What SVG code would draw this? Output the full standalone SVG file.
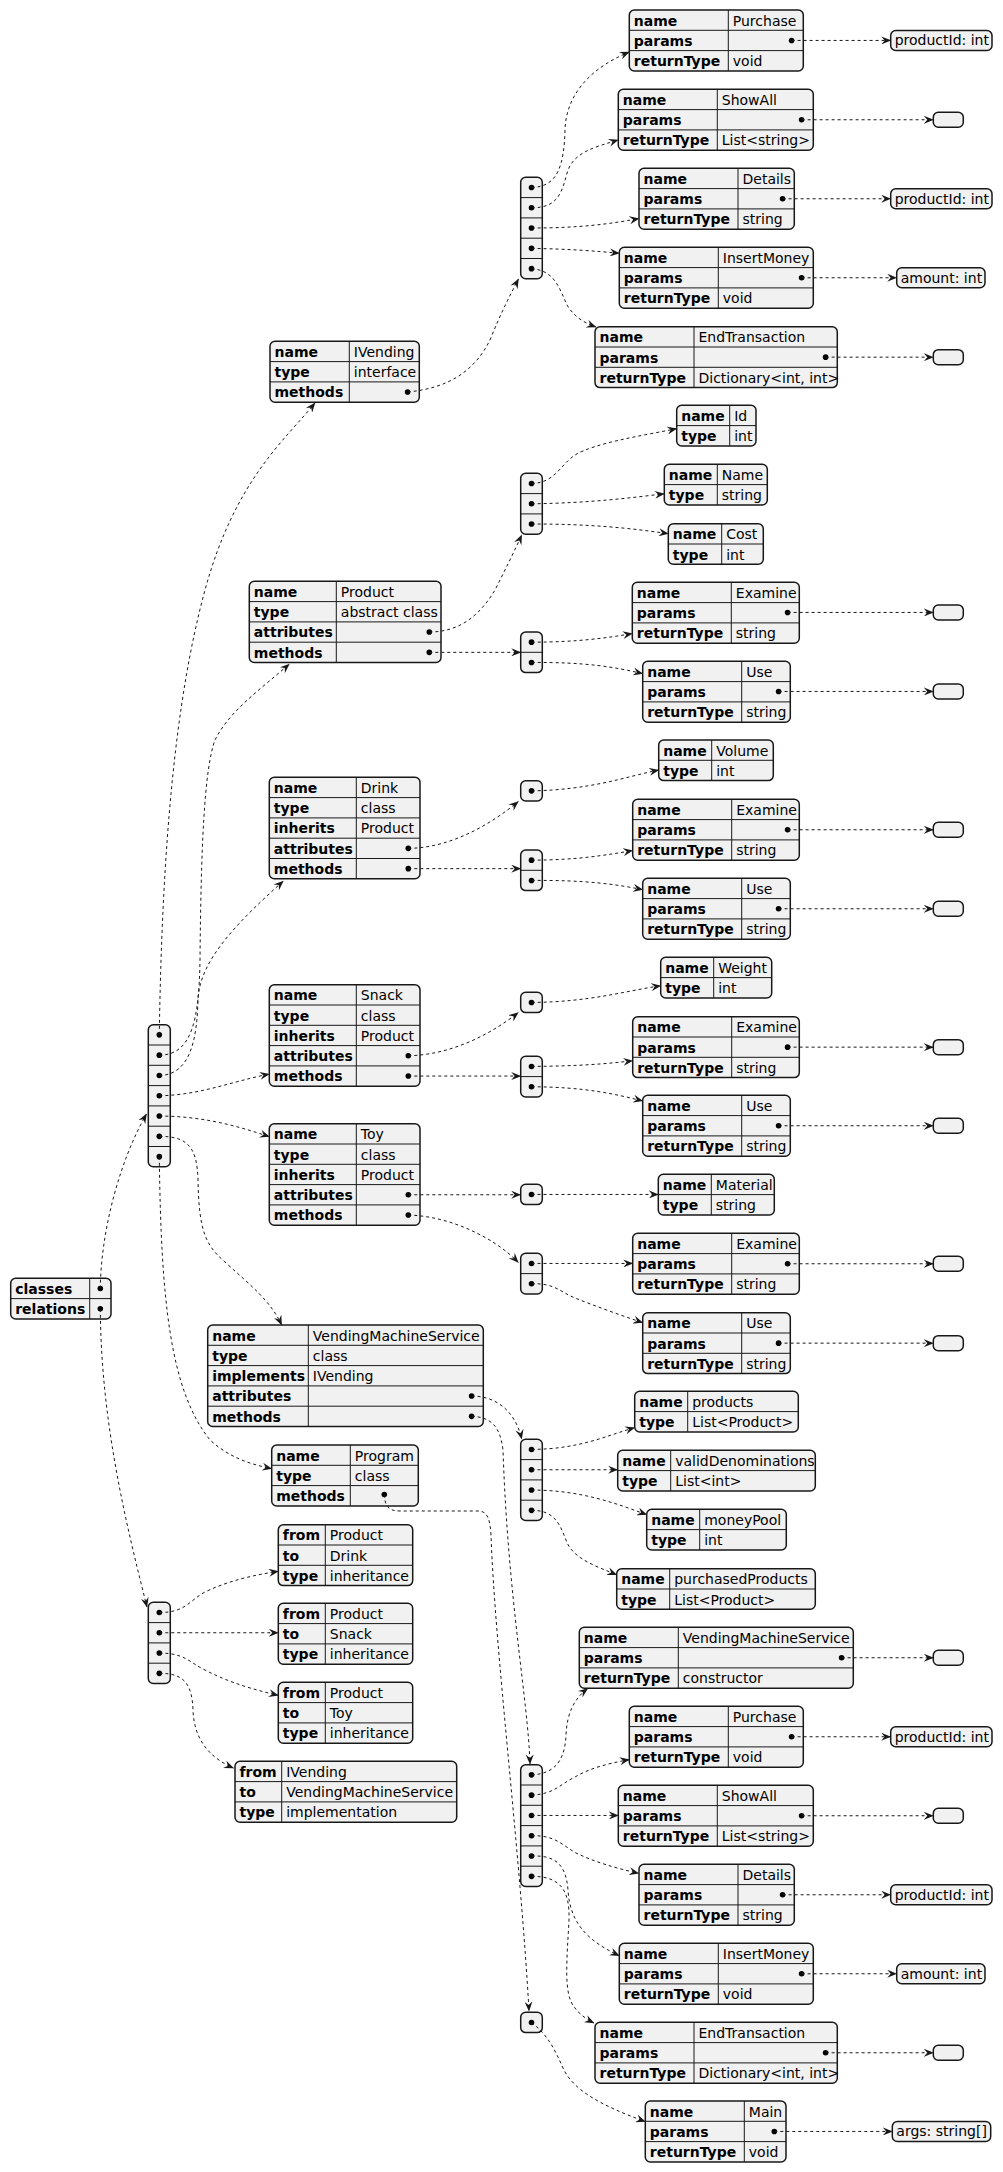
<svg xmlns="http://www.w3.org/2000/svg" width="1003" height="2172" viewBox="0 0 1003 2172">
<style>
.b{fill:#F1F1F1;stroke:#181818;stroke-width:1.5}
.g{fill:none;stroke:#181818;stroke-width:1}
text{font-family:"DejaVu Sans","Liberation Sans",sans-serif;font-size:14px;fill:#000}
.k{font-weight:bold}
.d{fill:#000}
.c path{fill:none;stroke:#181818;stroke-width:1;stroke-dasharray:3,3;marker-end:url(#ah)}
</style>
<defs>
<marker id="ah" viewBox="0 0 10 8" refX="9.5" refY="4" markerWidth="10" markerHeight="8" orient="auto" markerUnits="userSpaceOnUse"><path d="M0,0 L10,4 L0,8 L3.5,4 Z" fill="#181818"/></marker>
</defs>
<rect width="1003" height="2172" fill="#FFFFFF"/>

<g id="root"><rect class="b" x="10.7" y="1278.3" width="100.3" height="40.6" rx="5"/><path class="g" d="M10.7,1298.6H111M89.7,1278.3V1318.9"/><text class="k" x="15.2" y="1293.8">classes</text><text class="k" x="15.2" y="1314.1">relations</text><circle class="d" cx="100.3" cy="1288.45" r="2.8"/><circle class="d" cx="100.3" cy="1308.75" r="2.8"/></g>

<g id="classes"><rect class="b" x="148.3" y="1024.7" width="22" height="142.1" rx="5"/><path class="g" d="M148.3,1045H170.3M148.3,1065.3H170.3M148.3,1085.6H170.3M148.3,1105.9H170.3M148.3,1126.2H170.3M148.3,1146.5H170.3"/><circle class="d" cx="159.3" cy="1034.85" r="2.8"/><circle class="d" cx="159.3" cy="1055.15" r="2.8"/><circle class="d" cx="159.3" cy="1075.45" r="2.8"/><circle class="d" cx="159.3" cy="1095.75" r="2.8"/><circle class="d" cx="159.3" cy="1116.05" r="2.8"/><circle class="d" cx="159.3" cy="1136.35" r="2.8"/><circle class="d" cx="159.3" cy="1156.65" r="2.8"/></g>

<g id="relations"><rect class="b" x="148.3" y="1602.3" width="22" height="81.2" rx="5"/><path class="g" d="M148.3,1622.6H170.3M148.3,1642.9H170.3M148.3,1663.2H170.3"/><circle class="d" cx="159.3" cy="1612.45" r="2.8"/><circle class="d" cx="159.3" cy="1632.75" r="2.8"/><circle class="d" cx="159.3" cy="1653.05" r="2.8"/><circle class="d" cx="159.3" cy="1673.35" r="2.8"/></g>

<g id="ivending"><rect class="b" x="270" y="341.3" width="149.3" height="60.9" rx="5"/><path class="g" d="M270,361.6H419.3M270,381.9H419.3M349.3,341.3V402.2"/><text class="k" x="274.5" y="356.8">name</text><text class="k" x="274.5" y="377.1">type</text><text class="k" x="274.5" y="397.4">methods</text><text x="353.8" y="356.8">IVending</text><text x="353.8" y="377.1">interface</text><circle class="d" cx="407.6" cy="392.05" r="2.8"/></g>

<g id="ivending_methods"><rect class="b" x="520.7" y="177.3" width="21.6" height="101.5" rx="5"/><path class="g" d="M520.7,197.6H542.3M520.7,217.9H542.3M520.7,238.2H542.3M520.7,258.5H542.3"/><circle class="d" cx="531.5" cy="187.45" r="2.8"/><circle class="d" cx="531.5" cy="207.75" r="2.8"/><circle class="d" cx="531.5" cy="228.05" r="2.8"/><circle class="d" cx="531.5" cy="248.35" r="2.8"/><circle class="d" cx="531.5" cy="268.65" r="2.8"/></g>

<g id="iv_purchase"><rect class="b" x="629.3" y="10" width="174" height="60.9" rx="5"/><path class="g" d="M629.3,30.3H803.3M629.3,50.6H803.3M728.3,10V70.9"/><text class="k" x="633.8" y="25.5">name</text><text class="k" x="633.8" y="45.8">params</text><text class="k" x="633.8" y="66.1">returnType</text><text x="732.8" y="25.5">Purchase</text><text x="732.8" y="66.1">void</text><circle class="d" cx="791.6" cy="40.45" r="2.8"/></g>
<g id="iv_purchase_params"><rect class="b" x="890.7" y="30.45" width="101.3" height="20" rx="5"/><text x="894.7" y="45.2">productId: int</text></g>

<g id="iv_showall"><rect class="b" x="618.3" y="89.3" width="195" height="60.9" rx="5"/><path class="g" d="M618.3,109.6H813.3M618.3,129.9H813.3M717.3,89.3V150.2"/><text class="k" x="622.8" y="104.8">name</text><text class="k" x="622.8" y="125.1">params</text><text class="k" x="622.8" y="145.4">returnType</text><text x="721.8" y="104.8">ShowAll</text><text x="721.8" y="145.4">List&lt;string&gt;</text><circle class="d" cx="801.6" cy="119.75" r="2.8"/></g>
<g id="iv_showall_params"><rect class="b" x="933.3" y="112.25" width="30" height="15" rx="5"/></g>

<g id="iv_details"><rect class="b" x="639" y="168.3" width="155.3" height="60.9" rx="5"/><path class="g" d="M639,188.6H794.3M639,208.9H794.3M738,168.3V229.2"/><text class="k" x="643.5" y="183.8">name</text><text class="k" x="643.5" y="204.1">params</text><text class="k" x="643.5" y="224.4">returnType</text><text x="742.5" y="183.8">Details</text><text x="742.5" y="224.4">string</text><circle class="d" cx="782.6" cy="198.75" r="2.8"/></g>
<g id="iv_details_params"><rect class="b" x="890.7" y="188.75" width="101.3" height="20" rx="5"/><text x="894.7" y="203.5">productId: int</text></g>

<g id="iv_insertmoney"><rect class="b" x="619.3" y="247.3" width="194" height="60.9" rx="5"/><path class="g" d="M619.3,267.6H813.3M619.3,287.9H813.3M718.3,247.3V308.2"/><text class="k" x="623.8" y="262.8">name</text><text class="k" x="623.8" y="283.1">params</text><text class="k" x="623.8" y="303.4">returnType</text><text x="722.8" y="262.8">InsertMoney</text><text x="722.8" y="303.4">void</text><circle class="d" cx="801.6" cy="277.75" r="2.8"/></g>
<g id="iv_insertmoney_params"><rect class="b" x="896.7" y="267.75" width="88.3" height="20" rx="5"/><text x="900.7" y="282.5">amount: int</text></g>

<g id="iv_endtransaction"><rect class="b" x="595" y="326.7" width="242.3" height="60.9" rx="5"/><path class="g" d="M595,347H837.3M595,367.3H837.3M694,326.7V387.6"/><text class="k" x="599.5" y="342.2">name</text><text class="k" x="599.5" y="362.5">params</text><text class="k" x="599.5" y="382.8">returnType</text><text x="698.5" y="342.2">EndTransaction</text><text x="698.5" y="382.8">Dictionary&lt;int, int&gt;</text><circle class="d" cx="825.6" cy="357.15" r="2.8"/></g>
<g id="iv_endtransaction_params"><rect class="b" x="933.3" y="349.65" width="30" height="15" rx="5"/></g>

<g id="product"><rect class="b" x="249.3" y="581.3" width="191.7" height="81.2" rx="5"/><path class="g" d="M249.3,601.6H441M249.3,621.9H441M249.3,642.2H441M336.3,581.3V662.5"/><text class="k" x="253.8" y="596.8">name</text><text class="k" x="253.8" y="617.1">type</text><text class="k" x="253.8" y="637.4">attributes</text><text class="k" x="253.8" y="657.7">methods</text><text x="340.8" y="596.8">Product</text><text x="340.8" y="617.1">abstract class</text><circle class="d" cx="429.3" cy="632.05" r="2.8"/><circle class="d" cx="429.3" cy="652.35" r="2.8"/></g>

<g id="product_attributes"><rect class="b" x="520.7" y="473.3" width="21.6" height="60.9" rx="5"/><path class="g" d="M520.7,493.6H542.3M520.7,513.9H542.3"/><circle class="d" cx="531.5" cy="483.45" r="2.8"/><circle class="d" cx="531.5" cy="503.75" r="2.8"/><circle class="d" cx="531.5" cy="524.05" r="2.8"/></g>
<g id="attr_id"><rect class="b" x="676.7" y="405.3" width="79.3" height="40.6" rx="5"/><path class="g" d="M676.7,425.6H756M729.7,405.3V445.9"/><text class="k" x="681.2" y="420.8">name</text><text class="k" x="681.2" y="441.1">type</text><text x="734.2" y="420.8">Id</text><text x="734.2" y="441.1">int</text></g>
<g id="attr_name"><rect class="b" x="664.3" y="464.3" width="103" height="40.6" rx="5"/><path class="g" d="M664.3,484.6H767.3M717.3,464.3V504.9"/><text class="k" x="668.8" y="479.8">name</text><text class="k" x="668.8" y="500.1">type</text><text x="721.8" y="479.8">Name</text><text x="721.8" y="500.1">string</text></g>
<g id="attr_cost"><rect class="b" x="668.3" y="523.7" width="95" height="40.6" rx="5"/><path class="g" d="M668.3,544H763.3M721.7,523.7V564.3"/><text class="k" x="672.8" y="539.2">name</text><text class="k" x="672.8" y="559.5">type</text><text x="726.2" y="539.2">Cost</text><text x="726.2" y="559.5">int</text></g>

<g id="product_methods"><rect class="b" x="520.7" y="632" width="21.6" height="40.6" rx="5"/><path class="g" d="M520.7,652.3H542.3"/><circle class="d" cx="531.5" cy="642.15" r="2.8"/><circle class="d" cx="531.5" cy="662.45" r="2.8"/></g>
<g id="product_examine"><rect class="b" x="632.3" y="582.3" width="167" height="60.9" rx="5"/><path class="g" d="M632.3,602.6H799.3M632.3,622.9H799.3M731.3,582.3V643.2"/><text class="k" x="636.8" y="597.8">name</text><text class="k" x="636.8" y="618.1">params</text><text class="k" x="636.8" y="638.4">returnType</text><text x="735.8" y="597.8">Examine</text><text x="735.8" y="638.4">string</text><circle class="d" cx="787.6" cy="612.45" r="2.8"/></g>
<g id="product_examine_params"><rect class="b" x="933.3" y="604.95" width="30" height="15" rx="5"/></g>
<g id="product_use"><rect class="b" x="642.7" y="661.3" width="147.6" height="60.9" rx="5"/><path class="g" d="M642.7,681.6H790.3M642.7,701.9H790.3M741.7,661.3V722.2"/><text class="k" x="647.2" y="676.8">name</text><text class="k" x="647.2" y="697.1">params</text><text class="k" x="647.2" y="717.4">returnType</text><text x="746.2" y="676.8">Use</text><text x="746.2" y="717.4">string</text><circle class="d" cx="778.6" cy="691.45" r="2.8"/></g>
<g id="product_use_params"><rect class="b" x="933.3" y="683.95" width="30" height="15" rx="5"/></g>

<g id="drink"><rect class="b" x="269.3" y="777.3" width="150.7" height="101.5" rx="5"/><path class="g" d="M269.3,797.6H420M269.3,817.9H420M269.3,838.2H420M269.3,858.5H420M356.3,777.3V878.8"/><text class="k" x="273.8" y="792.8">name</text><text class="k" x="273.8" y="813.1">type</text><text class="k" x="273.8" y="833.4">inherits</text><text class="k" x="273.8" y="853.7">attributes</text><text class="k" x="273.8" y="874">methods</text><text x="360.8" y="792.8">Drink</text><text x="360.8" y="813.1">class</text><text x="360.8" y="833.4">Product</text><circle class="d" cx="408.3" cy="848.35" r="2.8"/><circle class="d" cx="408.3" cy="868.65" r="2.8"/></g>
<g id="drink_attributes"><rect class="b" x="520.7" y="780.7" width="21.6" height="20.3" rx="5"/><circle class="d" cx="531.5" cy="790.85" r="2.8"/></g>
<g id="attr_volume"><rect class="b" x="658.7" y="740" width="114.6" height="40.6" rx="5"/><path class="g" d="M658.7,760.3H773.3M711.7,740V780.6"/><text class="k" x="663.2" y="755.5">name</text><text class="k" x="663.2" y="775.8">type</text><text x="716.2" y="755.5">Volume</text><text x="716.2" y="775.8">int</text></g>
<g id="drink_methods"><rect class="b" x="520.7" y="850" width="21.6" height="40.6" rx="5"/><path class="g" d="M520.7,870.3H542.3"/><circle class="d" cx="531.5" cy="860.15" r="2.8"/><circle class="d" cx="531.5" cy="880.45" r="2.8"/></g>
<g id="drink_examine"><rect class="b" x="632.7" y="799.3" width="166.6" height="60.9" rx="5"/><path class="g" d="M632.7,819.6H799.3M632.7,839.9H799.3M731.7,799.3V860.2"/><text class="k" x="637.2" y="814.8">name</text><text class="k" x="637.2" y="835.1">params</text><text class="k" x="637.2" y="855.4">returnType</text><text x="736.2" y="814.8">Examine</text><text x="736.2" y="855.4">string</text><circle class="d" cx="787.6" cy="829.75" r="2.8"/></g>
<g id="drink_examine_params"><rect class="b" x="933.3" y="822.25" width="30" height="15" rx="5"/></g>
<g id="drink_use"><rect class="b" x="642.7" y="878.3" width="147.6" height="60.9" rx="5"/><path class="g" d="M642.7,898.6H790.3M642.7,918.9H790.3M741.7,878.3V939.2"/><text class="k" x="647.2" y="893.8">name</text><text class="k" x="647.2" y="914.1">params</text><text class="k" x="647.2" y="934.4">returnType</text><text x="746.2" y="893.8">Use</text><text x="746.2" y="934.4">string</text><circle class="d" cx="778.6" cy="908.75" r="2.8"/></g>
<g id="drink_use_params"><rect class="b" x="933.3" y="901.25" width="30" height="15" rx="5"/></g>

<g id="snack"><rect class="b" x="269.3" y="984.7" width="150.7" height="101.5" rx="5"/><path class="g" d="M269.3,1005H420M269.3,1025.3H420M269.3,1045.6H420M269.3,1065.9H420M356.3,984.7V1086.2"/><text class="k" x="273.8" y="1000.2">name</text><text class="k" x="273.8" y="1020.5">type</text><text class="k" x="273.8" y="1040.8">inherits</text><text class="k" x="273.8" y="1061.1">attributes</text><text class="k" x="273.8" y="1081.4">methods</text><text x="360.8" y="1000.2">Snack</text><text x="360.8" y="1020.5">class</text><text x="360.8" y="1040.8">Product</text><circle class="d" cx="408.3" cy="1055.75" r="2.8"/><circle class="d" cx="408.3" cy="1076.05" r="2.8"/></g>
<g id="snack_attributes"><rect class="b" x="520.7" y="992.3" width="21.6" height="20.3" rx="5"/><circle class="d" cx="531.5" cy="1002.45" r="2.8"/></g>
<g id="attr_weight"><rect class="b" x="660.7" y="957.3" width="111" height="40.6" rx="5"/><path class="g" d="M660.7,977.6H771.7M713.7,957.3V997.9"/><text class="k" x="665.2" y="972.8">name</text><text class="k" x="665.2" y="993.1">type</text><text x="718.2" y="972.8">Weight</text><text x="718.2" y="993.1">int</text></g>
<g id="snack_methods"><rect class="b" x="520.7" y="1056.3" width="21.6" height="40.6" rx="5"/><path class="g" d="M520.7,1076.6H542.3"/><circle class="d" cx="531.5" cy="1066.45" r="2.8"/><circle class="d" cx="531.5" cy="1086.75" r="2.8"/></g>
<g id="snack_examine"><rect class="b" x="632.7" y="1016.7" width="166.6" height="60.9" rx="5"/><path class="g" d="M632.7,1037H799.3M632.7,1057.3H799.3M731.7,1016.7V1077.6"/><text class="k" x="637.2" y="1032.2">name</text><text class="k" x="637.2" y="1052.5">params</text><text class="k" x="637.2" y="1072.8">returnType</text><text x="736.2" y="1032.2">Examine</text><text x="736.2" y="1072.8">string</text><circle class="d" cx="787.6" cy="1047.15" r="2.8"/></g>
<g id="snack_examine_params"><rect class="b" x="933.3" y="1039.65" width="30" height="15" rx="5"/></g>
<g id="snack_use"><rect class="b" x="642.7" y="1095.3" width="147.6" height="60.9" rx="5"/><path class="g" d="M642.7,1115.6H790.3M642.7,1135.9H790.3M741.7,1095.3V1156.2"/><text class="k" x="647.2" y="1110.8">name</text><text class="k" x="647.2" y="1131.1">params</text><text class="k" x="647.2" y="1151.4">returnType</text><text x="746.2" y="1110.8">Use</text><text x="746.2" y="1151.4">string</text><circle class="d" cx="778.6" cy="1125.75" r="2.8"/></g>
<g id="snack_use_params"><rect class="b" x="933.3" y="1118.25" width="30" height="15" rx="5"/></g>

<g id="toy"><rect class="b" x="269.3" y="1123.7" width="150.7" height="101.5" rx="5"/><path class="g" d="M269.3,1144H420M269.3,1164.3H420M269.3,1184.6H420M269.3,1204.9H420M356.3,1123.7V1225.2"/><text class="k" x="273.8" y="1139.2">name</text><text class="k" x="273.8" y="1159.5">type</text><text class="k" x="273.8" y="1179.8">inherits</text><text class="k" x="273.8" y="1200.1">attributes</text><text class="k" x="273.8" y="1220.4">methods</text><text x="360.8" y="1139.2">Toy</text><text x="360.8" y="1159.5">class</text><text x="360.8" y="1179.8">Product</text><circle class="d" cx="408.3" cy="1194.75" r="2.8"/><circle class="d" cx="408.3" cy="1215.05" r="2.8"/></g>
<g id="toy_attributes"><rect class="b" x="520.7" y="1184.3" width="21.6" height="20.3" rx="5"/><circle class="d" cx="531.5" cy="1194.45" r="2.8"/></g>
<g id="attr_material"><rect class="b" x="658.3" y="1174.3" width="116" height="40.6" rx="5"/><path class="g" d="M658.3,1194.6H774.3M711.3,1174.3V1214.9"/><text class="k" x="662.8" y="1189.8">name</text><text class="k" x="662.8" y="1210.1">type</text><text x="715.8" y="1189.8">Material</text><text x="715.8" y="1210.1">string</text></g>
<g id="toy_methods"><rect class="b" x="520.7" y="1253.3" width="21.6" height="40.6" rx="5"/><path class="g" d="M520.7,1273.6H542.3"/><circle class="d" cx="531.5" cy="1263.45" r="2.8"/><circle class="d" cx="531.5" cy="1283.75" r="2.8"/></g>
<g id="toy_examine"><rect class="b" x="632.7" y="1233.3" width="166.6" height="60.9" rx="5"/><path class="g" d="M632.7,1253.6H799.3M632.7,1273.9H799.3M731.7,1233.3V1294.2"/><text class="k" x="637.2" y="1248.8">name</text><text class="k" x="637.2" y="1269.1">params</text><text class="k" x="637.2" y="1289.4">returnType</text><text x="736.2" y="1248.8">Examine</text><text x="736.2" y="1289.4">string</text><circle class="d" cx="787.6" cy="1263.75" r="2.8"/></g>
<g id="toy_examine_params"><rect class="b" x="933.3" y="1256.25" width="30" height="15" rx="5"/></g>
<g id="toy_use"><rect class="b" x="642.7" y="1312.7" width="147.6" height="60.9" rx="5"/><path class="g" d="M642.7,1333H790.3M642.7,1353.3H790.3M741.7,1312.7V1373.6"/><text class="k" x="647.2" y="1328.2">name</text><text class="k" x="647.2" y="1348.5">params</text><text class="k" x="647.2" y="1368.8">returnType</text><text x="746.2" y="1328.2">Use</text><text x="746.2" y="1368.8">string</text><circle class="d" cx="778.6" cy="1343.15" r="2.8"/></g>
<g id="toy_use_params"><rect class="b" x="933.3" y="1335.65" width="30" height="15" rx="5"/></g>

<g id="vms"><rect class="b" x="207.7" y="1325" width="275.6" height="101.5" rx="5"/><path class="g" d="M207.7,1345.3H483.3M207.7,1365.6H483.3M207.7,1385.9H483.3M207.7,1406.2H483.3M308.3,1325V1426.5"/><text class="k" x="212.2" y="1340.5">name</text><text class="k" x="212.2" y="1360.8">type</text><text class="k" x="212.2" y="1381.1">implements</text><text class="k" x="212.2" y="1401.4">attributes</text><text class="k" x="212.2" y="1421.7">methods</text><text x="312.8" y="1340.5">VendingMachineService</text><text x="312.8" y="1360.8">class</text><text x="312.8" y="1381.1">IVending</text><circle class="d" cx="471.6" cy="1396.05" r="2.8"/><circle class="d" cx="471.6" cy="1416.35" r="2.8"/></g>
<g id="vms_attributes"><rect class="b" x="520.7" y="1439.3" width="21.6" height="81.2" rx="5"/><path class="g" d="M520.7,1459.6H542.3M520.7,1479.9H542.3M520.7,1500.2H542.3"/><circle class="d" cx="531.5" cy="1449.45" r="2.8"/><circle class="d" cx="531.5" cy="1469.75" r="2.8"/><circle class="d" cx="531.5" cy="1490.05" r="2.8"/><circle class="d" cx="531.5" cy="1510.35" r="2.8"/></g>
<g id="attr_products"><rect class="b" x="634.7" y="1391.3" width="163.6" height="40.6" rx="5"/><path class="g" d="M634.7,1411.6H798.3M687.7,1391.3V1431.9"/><text class="k" x="639.2" y="1406.8">name</text><text class="k" x="639.2" y="1427.1">type</text><text x="692.2" y="1406.8">products</text><text x="692.2" y="1427.1">List&lt;Product&gt;</text></g>
<g id="attr_validdenominations"><rect class="b" x="617.7" y="1450.3" width="197.6" height="40.6" rx="5"/><path class="g" d="M617.7,1470.6H815.3M670.7,1450.3V1490.9"/><text class="k" x="622.2" y="1465.8">name</text><text class="k" x="622.2" y="1486.1">type</text><text x="675.2" y="1465.8">validDenominations</text><text x="675.2" y="1486.1">List&lt;int&gt;</text></g>
<g id="attr_moneypool"><rect class="b" x="646.7" y="1509.3" width="139.6" height="40.6" rx="5"/><path class="g" d="M646.7,1529.6H786.3M699.7,1509.3V1549.9"/><text class="k" x="651.2" y="1524.8">name</text><text class="k" x="651.2" y="1545.1">type</text><text x="704.2" y="1524.8">moneyPool</text><text x="704.2" y="1545.1">int</text></g>
<g id="attr_purchasedproducts"><rect class="b" x="616.7" y="1568.7" width="198.6" height="40.6" rx="5"/><path class="g" d="M616.7,1589H815.3M669.7,1568.7V1609.3"/><text class="k" x="621.2" y="1584.2">name</text><text class="k" x="621.2" y="1604.5">type</text><text x="674.2" y="1584.2">purchasedProducts</text><text x="674.2" y="1604.5">List&lt;Product&gt;</text></g>

<g id="vms_methods"><rect class="b" x="520.7" y="1764.7" width="21.6" height="121.8" rx="5"/><path class="g" d="M520.7,1785H542.3M520.7,1805.3H542.3M520.7,1825.6H542.3M520.7,1845.9H542.3M520.7,1866.2H542.3"/><circle class="d" cx="531.5" cy="1774.85" r="2.8"/><circle class="d" cx="531.5" cy="1795.15" r="2.8"/><circle class="d" cx="531.5" cy="1815.45" r="2.8"/><circle class="d" cx="531.5" cy="1835.75" r="2.8"/><circle class="d" cx="531.5" cy="1856.05" r="2.8"/><circle class="d" cx="531.5" cy="1876.35" r="2.8"/></g>
<g id="vms_constructor"><rect class="b" x="579.3" y="1627.3" width="274" height="60.9" rx="5"/><path class="g" d="M579.3,1647.6H853.3M579.3,1667.9H853.3M678.3,1627.3V1688.2"/><text class="k" x="583.8" y="1642.8">name</text><text class="k" x="583.8" y="1663.1">params</text><text class="k" x="583.8" y="1683.4">returnType</text><text x="682.8" y="1642.8">VendingMachineService</text><text x="682.8" y="1683.4">constructor</text><circle class="d" cx="841.6" cy="1657.75" r="2.8"/></g>
<g id="vms_constructor_params"><rect class="b" x="933.3" y="1650.25" width="30" height="15" rx="5"/></g>
<g id="vms_purchase"><rect class="b" x="629.3" y="1706.3" width="174" height="60.9" rx="5"/><path class="g" d="M629.3,1726.6H803.3M629.3,1746.9H803.3M728.3,1706.3V1767.2"/><text class="k" x="633.8" y="1721.8">name</text><text class="k" x="633.8" y="1742.1">params</text><text class="k" x="633.8" y="1762.4">returnType</text><text x="732.8" y="1721.8">Purchase</text><text x="732.8" y="1762.4">void</text><circle class="d" cx="791.6" cy="1736.75" r="2.8"/></g>
<g id="vms_purchase_params"><rect class="b" x="890.7" y="1726.75" width="101.3" height="20" rx="5"/><text x="894.7" y="1741.5">productId: int</text></g>
<g id="vms_showall"><rect class="b" x="618.3" y="1785.3" width="195" height="60.9" rx="5"/><path class="g" d="M618.3,1805.6H813.3M618.3,1825.9H813.3M717.3,1785.3V1846.2"/><text class="k" x="622.8" y="1800.8">name</text><text class="k" x="622.8" y="1821.1">params</text><text class="k" x="622.8" y="1841.4">returnType</text><text x="721.8" y="1800.8">ShowAll</text><text x="721.8" y="1841.4">List&lt;string&gt;</text><circle class="d" cx="801.6" cy="1815.75" r="2.8"/></g>
<g id="vms_showall_params"><rect class="b" x="933.3" y="1808.25" width="30" height="15" rx="5"/></g>
<g id="vms_details"><rect class="b" x="639" y="1864.3" width="155.3" height="60.9" rx="5"/><path class="g" d="M639,1884.6H794.3M639,1904.9H794.3M738,1864.3V1925.2"/><text class="k" x="643.5" y="1879.8">name</text><text class="k" x="643.5" y="1900.1">params</text><text class="k" x="643.5" y="1920.4">returnType</text><text x="742.5" y="1879.8">Details</text><text x="742.5" y="1920.4">string</text><circle class="d" cx="782.6" cy="1894.75" r="2.8"/></g>
<g id="vms_details_params"><rect class="b" x="890.7" y="1884.75" width="101.3" height="20" rx="5"/><text x="894.7" y="1899.5">productId: int</text></g>
<g id="vms_insertmoney"><rect class="b" x="619.3" y="1943.3" width="194" height="60.9" rx="5"/><path class="g" d="M619.3,1963.6H813.3M619.3,1983.9H813.3M718.3,1943.3V2004.2"/><text class="k" x="623.8" y="1958.8">name</text><text class="k" x="623.8" y="1979.1">params</text><text class="k" x="623.8" y="1999.4">returnType</text><text x="722.8" y="1958.8">InsertMoney</text><text x="722.8" y="1999.4">void</text><circle class="d" cx="801.6" cy="1973.75" r="2.8"/></g>
<g id="vms_insertmoney_params"><rect class="b" x="896.7" y="1963.75" width="88.3" height="20" rx="5"/><text x="900.7" y="1978.5">amount: int</text></g>
<g id="vms_endtransaction"><rect class="b" x="595" y="2022.3" width="242.3" height="60.9" rx="5"/><path class="g" d="M595,2042.6H837.3M595,2062.9H837.3M694,2022.3V2083.2"/><text class="k" x="599.5" y="2037.8">name</text><text class="k" x="599.5" y="2058.1">params</text><text class="k" x="599.5" y="2078.4">returnType</text><text x="698.5" y="2037.8">EndTransaction</text><text x="698.5" y="2078.4">Dictionary&lt;int, int&gt;</text><circle class="d" cx="825.6" cy="2052.75" r="2.8"/></g>
<g id="vms_endtransaction_params"><rect class="b" x="933.3" y="2045.25" width="30" height="15" rx="5"/></g>

<g id="program"><rect class="b" x="271.7" y="1445" width="146.6" height="60.9" rx="5"/><path class="g" d="M271.7,1465.3H418.3M271.7,1485.6H418.3M350.3,1445V1505.9"/><text class="k" x="276.2" y="1460.5">name</text><text class="k" x="276.2" y="1480.8">type</text><text class="k" x="276.2" y="1501.1">methods</text><text x="354.8" y="1460.5">Program</text><text x="354.8" y="1480.8">class</text><circle class="d" cx="384.3" cy="1494.5" r="2.8"/></g>
<g id="program_methods"><rect class="b" x="520.7" y="2012.3" width="21.6" height="20.3" rx="5"/><circle class="d" cx="531.5" cy="2022.45" r="2.8"/></g>
<g id="program_main"><rect class="b" x="645.3" y="2101" width="140.7" height="60.9" rx="5"/><path class="g" d="M645.3,2121.3H786M645.3,2141.6H786M744.3,2101V2161.9"/><text class="k" x="649.8" y="2116.5">name</text><text class="k" x="649.8" y="2136.8">params</text><text class="k" x="649.8" y="2157.1">returnType</text><text x="748.8" y="2116.5">Main</text><text x="748.8" y="2157.1">void</text><circle class="d" cx="774.3" cy="2131.45" r="2.8"/></g>
<g id="program_main_params"><rect class="b" x="892.3" y="2121.45" width="98.4" height="20" rx="5"/><text x="896.3" y="2136.2">args: string[]</text></g>

<g id="rel_drink"><rect class="b" x="278.3" y="1524.7" width="134.4" height="60.9" rx="5"/><path class="g" d="M278.3,1545H412.7M278.3,1565.3H412.7M325.3,1524.7V1585.6"/><text class="k" x="282.8" y="1540.2">from</text><text class="k" x="282.8" y="1560.5">to</text><text class="k" x="282.8" y="1580.8">type</text><text x="329.8" y="1540.2">Product</text><text x="329.8" y="1560.5">Drink</text><text x="329.8" y="1580.8">inheritance</text></g>
<g id="rel_snack"><rect class="b" x="278.3" y="1603.3" width="134.4" height="60.9" rx="5"/><path class="g" d="M278.3,1623.6H412.7M278.3,1643.9H412.7M325.3,1603.3V1664.2"/><text class="k" x="282.8" y="1618.8">from</text><text class="k" x="282.8" y="1639.1">to</text><text class="k" x="282.8" y="1659.4">type</text><text x="329.8" y="1618.8">Product</text><text x="329.8" y="1639.1">Snack</text><text x="329.8" y="1659.4">inheritance</text></g>
<g id="rel_toy"><rect class="b" x="278.3" y="1682.3" width="134.4" height="60.9" rx="5"/><path class="g" d="M278.3,1702.6H412.7M278.3,1722.9H412.7M325.3,1682.3V1743.2"/><text class="k" x="282.8" y="1697.8">from</text><text class="k" x="282.8" y="1718.1">to</text><text class="k" x="282.8" y="1738.4">type</text><text x="329.8" y="1697.8">Product</text><text x="329.8" y="1718.1">Toy</text><text x="329.8" y="1738.4">inheritance</text></g>
<g id="rel_vms"><rect class="b" x="235" y="1761.3" width="221.7" height="60.9" rx="5"/><path class="g" d="M235,1781.6H456.7M235,1801.9H456.7M281.7,1761.3V1822.2"/><text class="k" x="239.5" y="1776.8">from</text><text class="k" x="239.5" y="1797.1">to</text><text class="k" x="239.5" y="1817.4">type</text><text x="286.2" y="1776.8">IVending</text><text x="286.2" y="1797.1">VendingMachineService</text><text x="286.2" y="1817.4">implementation</text></g>

<g id="connectors" class="c">
<path d="M100.3,1288.5 C101,1230 120,1160 146.5,1114"/>
<path d="M100.3,1308.8 C101,1420 125,1520 147,1607"/>
<path d="M159.3,1034.9 C162,850 175,700 205,590 S285,440 315,403"/>
<path d="M159.3,1055.2 C192,1055 199,1020 200,960 C201,850 204,770 215,740 C230,710 260,690 289.3,664"/>
<path d="M159.3,1075.5 C190,1075 197,1040 198,1000 C199,960 240,920 283.3,881"/>
<path d="M159.3,1095.8 C200,1095 230,1082 269.3,1074"/>
<path d="M159.3,1116.1 C200,1116 235,1125 269.3,1136.7"/>
<path d="M159.3,1136.4 C190,1136 197,1150 198,1180 C199,1230 205,1245 225,1262 C250,1285 270,1300 281.7,1325"/>
<path d="M159.3,1156.7 C161,1300 170,1390 210,1440 C230,1458 250,1464 271.7,1468.7"/>
<path d="M407.6,392 C450,388 475,370 490,340 C500,315 510,295 518.5,279"/>
<path d="M531.5,187.5 C558,187 564,165 565,130 C566,95 590,68 629.3,52"/>
<path d="M531.5,207.8 C560,208 562,190 568,170 C575,152 595,147 618.3,140"/>
<path d="M531.5,228 C580,228 610,224 639,218.5"/>
<path d="M531.5,248.4 C570,249 595,251 619.3,253.3"/>
<path d="M531.5,268.7 C555,270 560,290 567,305 C575,318 585,323 596,327"/>
<path d="M791.6,40.45 H890.7"/>
<path d="M801.6,119.75 H933.3"/>
<path d="M782.6,198.75 H890.7"/>
<path d="M801.6,277.75 H896.7"/>
<path d="M825.6,357.15 H933.3"/>
<path d="M429.3,632 C460,632 480,615 495,590 C505,570 515,550 521.7,535"/>
<path d="M429.3,652.35 H520.7"/>
<path d="M531.5,483.5 C555,483 560,465 575,455 C595,443 640,436 676.7,428.7"/>
<path d="M531.5,503.8 C590,503 630,498 664.3,493.7"/>
<path d="M531.5,524 C590,524 630,528 668.3,533.7"/>
<path d="M531.5,642.2 C580,642 605,638 632.3,633.7"/>
<path d="M531.5,662.5 C585,662 615,667 642.7,673.7"/>
<path d="M787.6,612.45 H933.3"/>
<path d="M778.6,691.45 H933.3"/>
<path d="M408.3,848.35 C450,848 490,825 518.3,801.5"/>
<path d="M408.3,868.65 H520.7"/>
<path d="M531.5,790.85 C590,790 625,777 658.7,770"/>
<path d="M531.5,860.15 C580,860 605,855 632.7,850.7"/>
<path d="M531.5,880.45 C585,880 615,884 642.7,889.7"/>
<path d="M787.6,829.75 H933.3"/>
<path d="M778.6,908.75 H933.3"/>
<path d="M408.3,1055.75 C450,1055 490,1035 518.3,1012.5"/>
<path d="M408.3,1076.05 H520.7"/>
<path d="M531.5,1002.45 C590,1002 625,991 660.7,985.7"/>
<path d="M531.5,1066.45 C580,1066 605,1064 632.7,1060.7"/>
<path d="M531.5,1086.75 C585,1087 615,1094 642.7,1101"/>
<path d="M787.6,1047.15 H933.3"/>
<path d="M778.6,1125.75 H933.3"/>
<path d="M408.3,1194.75 H520.7"/>
<path d="M408.3,1215.05 C450,1216 495,1238 518.3,1262.5"/>
<path d="M531.5,1194.45 H658.3"/>
<path d="M531.5,1263.45 H632.7"/>
<path d="M531.5,1283.75 C555,1283 560,1292 575,1298 C595,1306 620,1315 642.7,1322.7"/>
<path d="M787.6,1263.75 H933.3"/>
<path d="M778.6,1343.15 H933.3"/>
<path d="M471.6,1396 C495,1396 515,1410 521.7,1439"/>
<path d="M471.6,1416.35 C490,1417 500,1425 503,1450 C508,1600 528,1700 530,1764"/>
<path d="M531.5,1449.45 C580,1449 605,1436 634.7,1427.7"/>
<path d="M531.5,1469.75 H617.7"/>
<path d="M531.5,1490.05 C580,1490 615,1503 646.7,1514.7"/>
<path d="M531.5,1510.35 C555,1510 560,1525 566,1540 C572,1558 595,1566 616.7,1574.7"/>
<path d="M384.3,1494.5 C385,1508 390,1511 400,1511 L478,1511 C488,1511 490,1520 491,1535 C495,1650 520,1850 529,2011"/>
<path d="M531.5,1774.85 C555,1774 565,1760 566,1735 C567,1712 575,1698 587.7,1688.5"/>
<path d="M531.5,1795.15 C555,1794 560,1784 575,1777 C590,1768 610,1763 629.3,1759.7"/>
<path d="M531.5,1815.45 H618.3"/>
<path d="M531.5,1835.75 C555,1835 562,1845 576,1853 C595,1862 615,1868 638.7,1873.3"/>
<path d="M531.5,1856.05 C556,1855 566,1865 568,1890 C570,1925 590,1942 619.3,1955.7"/>
<path d="M531.5,1876.35 C560,1876 570,1890 569,1920 C567,1960 563,1995 575,2008 C580,2015 588,2020 594,2023"/>
<path d="M531.5,2022.45 C548,2035 555,2050 563,2068 C573,2090 600,2105 645.3,2121.7"/>
<path d="M841.6,1657.75 H933.3"/>
<path d="M791.6,1736.75 H890.7"/>
<path d="M801.6,1815.75 H933.3"/>
<path d="M782.6,1894.75 H890.7"/>
<path d="M801.6,1973.75 H896.7"/>
<path d="M825.6,2052.75 H933.3"/>
<path d="M774.3,2131.45 H892.3"/>
<path d="M159.3,1612.45 C185,1613 190,1600 205,1592 C230,1580 255,1575 278.3,1571.3"/>
<path d="M159.3,1632.75 H278.3"/>
<path d="M159.3,1653.05 C185,1653 190,1663 205,1670 C230,1683 255,1690 278.3,1695.3"/>
<path d="M159.3,1673.35 C185,1673 192,1685 193,1710 C194,1740 210,1758 233.5,1768"/>
</g>
</svg>
